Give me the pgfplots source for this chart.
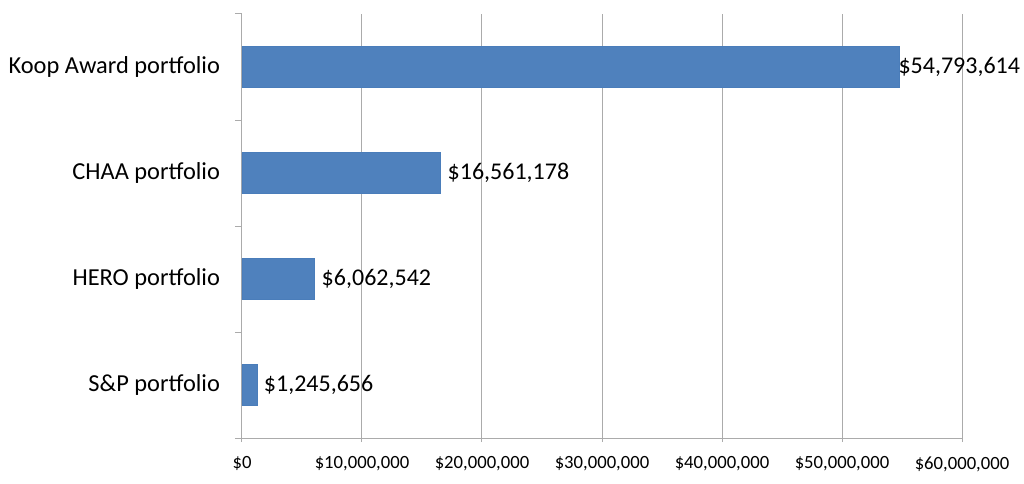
\documentclass[border=0pt]{standalone}
\usepackage{pgfplots}
\pgfplotsset{compat=1.18}
\usepackage{fontspec}
\setmainfont{Carlito}
\definecolor{barblue}{HTML}{4F81BD}
\definecolor{baredge}{HTML}{4A7DBA}
\definecolor{gridgray}{HTML}{ABABAB}
\begin{document}
\begin{tikzpicture}
\path[use as bounding box] (-181.5pt,-33.75pt) rectangle (586.5pt,328.5pt);
\begin{axis}[
  at={(0pt,0pt)}, anchor=south west,
  scale only axis, width=540pt, height=318pt,
  xmin=0, xmax=60000000, ymin=-0.5, ymax=3.5,
  axis x line*=bottom, axis y line*=left,
  axis line style={gridgray, line width=0.75pt, -},
  every outer x axis line/.append style={-},
  every outer y axis line/.append style={-},
  scaled x ticks=false,
  xtick={0,10000000,20000000,30000000,40000000,50000000,60000000},
  xticklabels={{\$0},{\$10,000,000},{\$20,000,000},{\$30,000,000},{\$40,000,000},{\$50,000,000},{\$60,000,000}},
  xmajorgrids, grid style={gridgray, line width=0.75pt},
  tick align=outside,
  major tick length=3pt, minor tick length=5.25pt,
  tick style={gridgray, line width=0.75pt},
  ytick={0,1,2,3},
  yticklabels={S\&P portfolio, HERO portfolio, CHAA portfolio, Koop Award portfolio},
  major y tick style={draw=none},
  minor ytick={-0.5,0.5,1.5,2.5,3.5},
  yticklabel style={font=\fontsize{18.3}{22}\selectfont, xshift=-10pt},
  xticklabel style={font=\fontsize{14}{17}\selectfont, yshift=-7.5pt},
  xbar, bar width=30.75pt, bar shift=0pt,
  clip=false,
]
\addplot[fill=barblue, draw=baredge, line width=0.5pt,
  nodes near coords, point meta=explicit symbolic,
  nodes near coords style={anchor=west, font=\fontsize{18}{22}\selectfont, text=black, inner xsep=5pt}]
  coordinates {(1245656,0) [\$1,245,656] (6062542,1) [\$6,062,542] (16561178,2) [\$16,561,178]};
\addplot[fill=barblue, draw=baredge, line width=0.5pt,
  nodes near coords, point meta=explicit symbolic,
  nodes near coords style={anchor=west, font=\fontsize{18}{22}\selectfont, text=black, inner xsep=0pt, xshift=-1pt}]
  coordinates {(54793614,3) [\$54,793,614]};
\end{axis}
\end{tikzpicture}
\end{document}
